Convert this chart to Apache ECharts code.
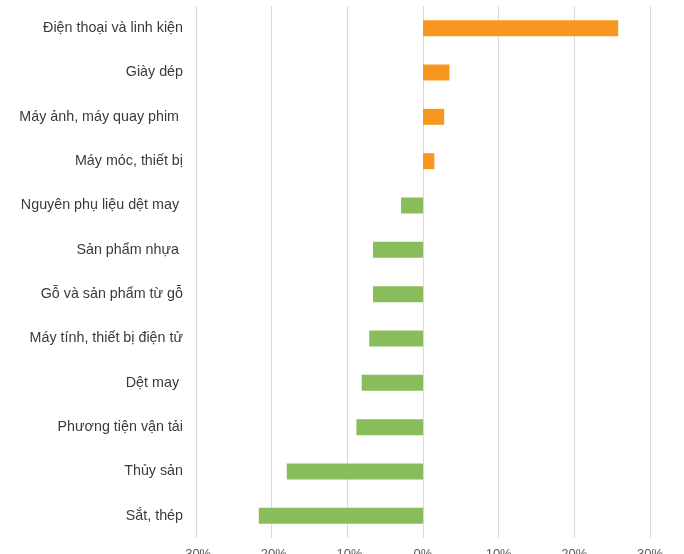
<!DOCTYPE html>
<html>
<head>
<meta charset="utf-8">
<script src="https://cdn.jsdelivr.net/npm/echarts@6/dist/echarts.min.js"></script>
<style>
  html, body { margin: 0; padding: 0; background: #ffffff; }
  #chart { width: 684px; height: 554px; }
</style>
</head>
<body>
<div id="chart"></div>
<script>
// Product groups, top to bottom
var categories = [
  'Điện thoại và linh kiện',
  'Giày dép',
  'Máy ảnh, máy quay phim ',
  'Máy móc, thiết bị',
  'Nguyên phụ liệu dệt may ',
  'Sản phẩm nhựa ',
  'Gỗ và sản phẩm từ gỗ',
  'Máy tính, thiết bị điện tử',
  'Dệt may ',
  'Phương tiện vận tải',
  'Thủy sản',
  'Sắt, thép'
];

// Year-on-year change, percent
var changes = [25.8, 3.5, 2.8, 1.5, -2.9, -6.6, -6.6, -7.1, -8.1, -8.8, -18.0, -21.7];

// Value axis range and step, percent
var axisMin = -30;
var axisMax = 30;
var axisStep = 10;

var COLOR_UP = '#F7971F';
var COLOR_DOWN = '#89BC5B';

var chart = echarts.init(document.getElementById('chart'));

chart.setOption({
  animation: false,
  backgroundColor: '#ffffff',
  grid: {
    left: 196, right: 34, top: 6, bottom: 16,
    containLabel: false,
    outerBoundsMode: 'none'
  },
  xAxis: {
    type: 'value',
    min: axisMin,
    max: axisMax,
    interval: axisStep,
    axisLine: { show: false },
    axisTick: { show: false },
    axisLabel: {
      formatter: '{value}%',
      color: '#595959',
      fontFamily: 'Liberation Sans, Arial, sans-serif',
      fontSize: 13,
      margin: 10
    },
    splitLine: { show: true, lineStyle: { color: '#d9d9d9', width: 1 } }
  },
  yAxis: {
    type: 'category',
    data: categories,
    inverse: true,
    axisLine: { show: false, onZero: false },
    axisTick: { show: false },
    axisLabel: {
      color: '#3a3a3a',
      fontFamily: 'Liberation Sans, Arial, sans-serif',
      fontSize: 14.3,
      margin: 13
    },
    splitLine: { show: false }
  },
  series: [{
    type: 'bar',
    data: changes.map(function (v) {
      return { value: v, itemStyle: { color: v >= 0 ? COLOR_UP : COLOR_DOWN } };
    }),
    barWidth: '36%',
    itemStyle: { borderWidth: 0 }
  }]
});
</script>
</body>
</html>
